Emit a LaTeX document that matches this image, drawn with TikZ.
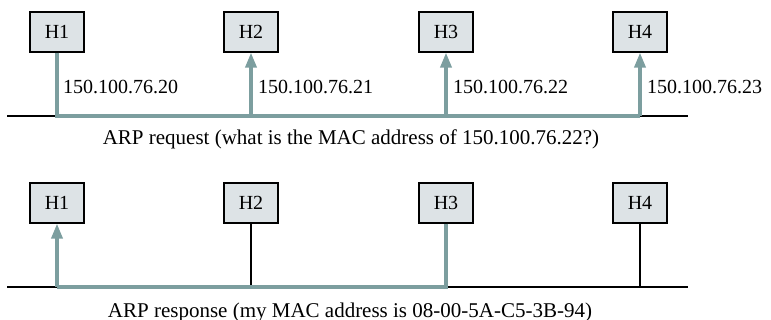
\documentclass[tikz,border=0pt]{standalone}
\usepackage{fontspec}
\setmainfont{Liberation Serif}
\usetikzlibrary{arrows.meta}

\definecolor{boxgray}{HTML}{DDE3E6}
\definecolor{arpteal}{HTML}{7C9E9F}

\begin{document}
\begin{tikzpicture}[x=1pt, y=-1pt,
  host/.style={draw, line width=1.2pt, fill=boxgray, minimum width=54pt, minimum height=40pt,
    font=\fontsize{20}{24}\selectfont},
  bus/.style={line width=1.5pt},
  arp/.style={arpteal, line width=3.5pt},
  tip/.style={-{Triangle[length=15pt,width=11pt]}},
  ip/.style={anchor=base west, inner sep=0pt, font=\fontsize{20}{24}\selectfont},
  caption/.style={anchor=base, inner sep=0pt, font=\fontsize{21}{25}\selectfont}]
  \useasboundingbox (0,0) rectangle (771,320);

  % ARP request
  \node[host] (h1) at (57,32) {H1};
  \node[host] (h2) at (251,32) {H2};
  \node[host] (h3) at (446,32) {H3};
  \node[host] (h4) at (640,32) {H4};

  \coordinate (tl) at (7,116);
  \coordinate (tr) at (688,116);
  \coordinate (t2) at (h2 |- tl);
  \coordinate (t3) at (h3 |- tl);
  \coordinate (t4) at (h4 |- tl);

  \draw[bus] (tl) -- (tr);
  \draw[arp] (h1.south) |- (t4);
  \draw[arp, tip] (t2) -- (h2.south);
  \draw[arp, tip] (t3) -- (h3.south);
  \draw[arp, tip] (t4) -- (h4.south);

  \node[ip] (ip1) at (63,94) {150.100.76.20};
  \node[ip] (ip2) at (258,94) {150.100.76.21};
  \node[ip] (ip3) at (453,94) {150.100.76.22};
  \node[ip] (ip4) at (647,94) {150.100.76.23};

  \node[caption] (req) at (351,145) {ARP request (what is the MAC address of 150.100.76.22?)};

  % ARP response
  \node[host] (g1) at (57,203) {H1};
  \node[host] (g2) at (251,203) {H2};
  \node[host] (g3) at (446,203) {H3};
  \node[host] (g4) at (640,203) {H4};

  \coordinate (bl) at (7,287);
  \coordinate (br) at (688,287);
  \coordinate (b1) at (g1 |- bl);
  \coordinate (b2) at (g2 |- bl);
  \coordinate (b4) at (g4 |- bl);

  \draw[bus] (bl) -- (br);
  \draw[bus] (g2.south) -- (b2);
  \draw[bus] (g4.south) -- (b4);
  \draw[arp] (g3.south) |- (b1);
  \draw[arp, tip] (b1) -- (g1.south);

  \node[caption] (resp) at (350,317) {ARP response (my MAC address is 08-00-5A-C5-3B-94)};
\end{tikzpicture}
\end{document}
